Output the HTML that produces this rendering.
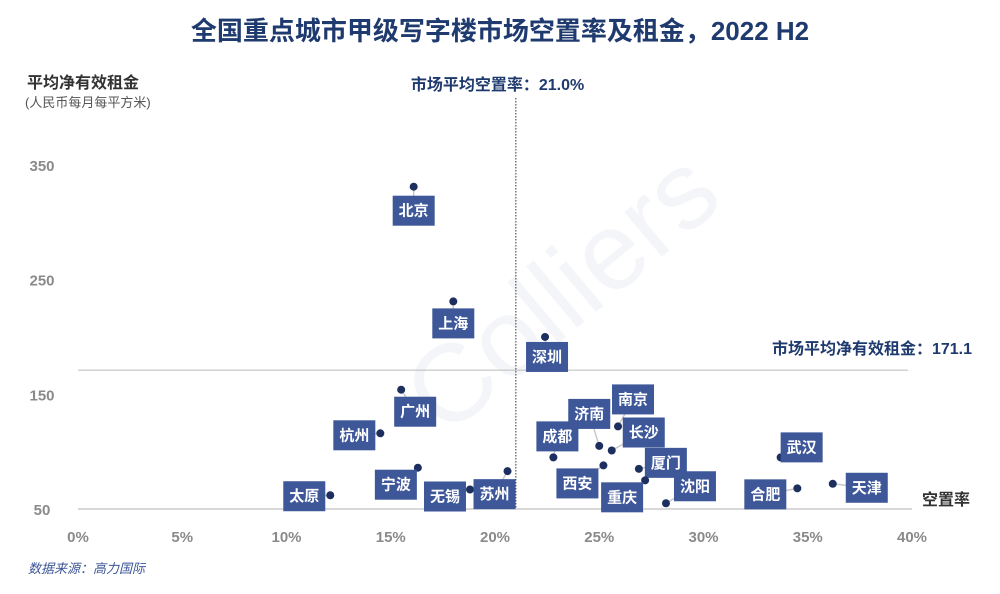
<!DOCTYPE html>
<html><head><meta charset="utf-8"><style>
body{margin:0;background:#fff;}
svg text{font-family:"Liberation Sans","Noto Sans CJK SC",sans-serif;}
</style></head><body>
<svg id="chart" width="1000" height="589" viewBox="0 0 1000 589" xmlns="http://www.w3.org/2000/svg">
<text x="500" y="40" text-anchor="middle" font-size="26" font-weight="bold" fill="#1f3a6e">全国重点城市甲级写字楼市场空置率及租金，2022 H2</text>
<text x="560" y="330" text-anchor="middle" font-size="110" font-family="Liberation Serif,serif" fill="#3b5596" opacity="0.05" transform="rotate(-40 560 290)">Colliers</text>
<text x="27" y="88" font-size="16" font-weight="bold" fill="#333">平均净有效租金</text>
<text x="25" y="107" font-size="13" fill="#555">(人民币每月每平方米)</text>
<text x="922" y="505" font-size="16" font-weight="bold" fill="#333">空置率</text>
<text x="28" y="573" font-size="13" font-style="italic" fill="#3b5596">数据来源：高力国际</text>
<g id="axes"></g>
<g id="marks"></g>
</svg>
<script>
const cities=["北京","上海","深圳","广州","杭州","宁波","太原","无锡","苏州","成都","济南","南京","长沙","西安","厦门","重庆","沈阳","武汉","合肥","天津"];
const vacancy=[16.1,18.0,22.4,15.5,14.5,16.3,12.1,18.8,20.6,22.8,25.0,25.9,25.6,25.2,26.9,27.2,28.2,33.7,34.5,36.2];
const rent=[331,231,200,154,116,86,62,67,83,95,105,122,101,88,85,75,55,95,68,72];
const labelDx=[0,0,2,14,-26,-22,-26,-25,-13,4,-10,15,32,-26,27,-23,29,21,-32,34];
const labelDy=[24,22,20,22,2,17,1,7,23,-21,-32,-27,-18,18,-6,17,-17,-10,6,4];
const xTicks=[0,5,10,15,20,25,30,35,40];
const yTicks=[50,150,250,350];
const avgVacancy=21.0, avgRent=171.1;
const X=v=>78+v*20.85, Y=r=>509-(r-50)*1.147;
const NS="http://www.w3.org/2000/svg";
function mk(tag,attrs,parent,txt){const e=document.createElementNS(NS,tag);for(const k in attrs)e.setAttribute(k,attrs[k]);if(txt!==undefined)e.textContent=txt;parent.appendChild(e);return e;}
const ax=document.getElementById('axes'), mg=document.getElementById('marks');
let l=mk('line',{x1:78,x2:912,y1:509,y2:509,stroke:'#ccc','stroke-width':1.5},ax);


xTicks.forEach(t=>{const e=mk('text',{x:X(t),y:542,'text-anchor':'middle','font-size':15,'font-weight':'bold',fill:'#8a8a8a'},ax,t+'%');

});
yTicks.forEach(t=>{const e=mk('text',{x:42,y:Y(t)+6,'text-anchor':'middle','font-size':15,'font-weight':'bold',fill:'#8a8a8a'},ax,t);

});
let h=mk('line',{x1:78,x2:908,y1:Y(avgRent),y2:Y(avgRent),stroke:'#bbb','stroke-width':1},ax);


let v=mk('line',{x1:X(avgVacancy),x2:X(avgVacancy),y1:98,y2:509,stroke:'#333','stroke-width':1,'stroke-dasharray':'1.5,1.5'},ax);


let t1=mk('text',{x:X(avgVacancy)-105,y:90,'font-size':16,'font-weight':'bold',fill:'#1f3a6e'},ax,'市场平均空置率：21.0%');


let t2=mk('text',{x:972,y:Y(avgRent)-16,'text-anchor':'end','font-size':16,'font-weight':'bold',fill:'#1f3a6e'},ax,'市场平均净有效租金：171.1');


cities.forEach((c,i)=>{
 const px=X(vacancy[i]), py=Y(rent[i]), lx=px+labelDx[i], ly=py+labelDy[i];
 const ld=mk('line',{x1:px,y1:py,x2:lx,y2:ly,stroke:'#c8c8c8','stroke-width':1.5},mg);
 
 
 const d=mk('circle',{cx:px,cy:py,r:4,fill:'#1d2f5e'},mg);
 
 
 const b=mk('rect',{x:lx-21,y:ly-15,width:42,height:30,fill:'#3d5799'},mg);
 
 
 const t=mk('text',{x:lx,y:ly+5,'text-anchor':'middle','font-size':15,'font-weight':'bold',fill:'#fff'},mg,c);
 
 
});
</script>
</body></html>
